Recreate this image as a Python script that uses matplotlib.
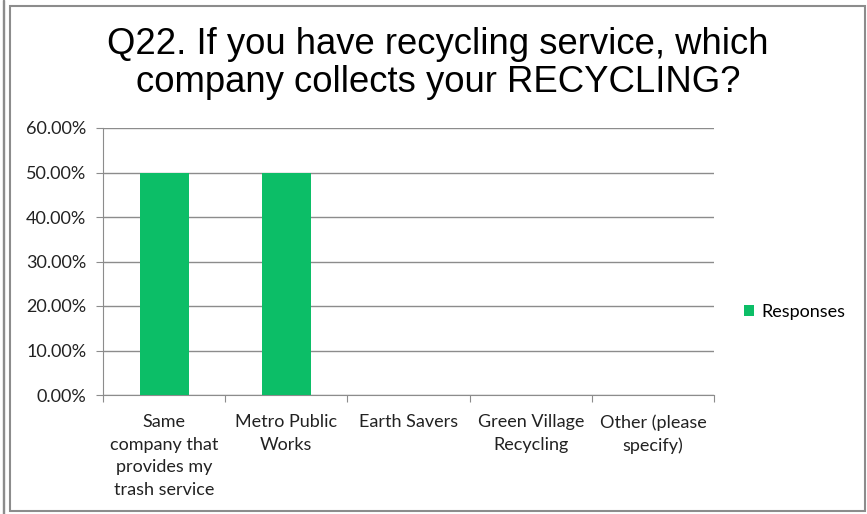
import numpy as np
import matplotlib.pyplot as plt
from matplotlib.patches import Rectangle
from matplotlib.ticker import FuncFormatter

categories = ["Same\ncompany that\nprovides my\ntrash service", "Metro Public\nWorks",
              "Earth Savers", "Green Village\nRecycling", "Other (please\nspecify)"]
responses = [0.50, 0.50, 0.0, 0.0, 0.0]
yticks = [0.0, 0.1, 0.2, 0.3, 0.4, 0.5, 0.6]

green = "#0CBE67"
label_font = "Lato"

fig = plt.figure(figsize=(8.67, 5.14), dpi=100)
ax = fig.add_axes([103/867, 1-395/514, (714-103)/867, (395-128)/514])

x = np.arange(len(categories))
ax.bar(x, responses, width=0.4, color=green, label="Responses", zorder=3)

ax.set_xlim(-0.5, len(categories)-0.5)
ax.set_ylim(0, 0.6)
ax.set_yticks(yticks)
ax.yaxis.set_major_formatter(FuncFormatter(lambda v, p: "%.2f%%" % (v*100)))
ax.grid(axis="y", color="#8c8c8c", linewidth=1, zorder=0)

ax.set_xticks(np.arange(len(categories)+1) - 0.5, minor=False)
ax.set_xticklabels([])
ax.set_xticks(x, minor=True)
ax.set_xticklabels(categories, minor=True, fontsize=13, fontfamily=label_font,
                   color="#222222", linespacing=1.5)
ax.tick_params(axis="x", which="minor", length=0, pad=14)
ax.tick_params(axis="x", which="major", length=5, color="#8c8c8c")
ax.tick_params(axis="y", length=5, color="#8c8c8c", labelsize=13, labelcolor="#222222", pad=7)
for t in ax.get_yticklabels():
    t.set_fontfamily(label_font)

for s in ["top", "right"]:
    ax.spines[s].set_visible(False)
ax.spines["left"].set_color("#8c8c8c")
ax.spines["bottom"].set_color("#8c8c8c")

fig.text(0.505, 0.877, "Q22. If you have recycling service, which\ncompany collects your RECYCLING?",
         ha="center", va="center", fontsize=26.3, fontfamily="Liberation Sans",
         linespacing=1.1)

leg = fig.legend(loc="center left", bbox_to_anchor=(728/867, 1-312/514), frameon=False,
                 prop={"family": label_font, "size": 13}, handlelength=0.55, handleheight=0.55,
                 handletextpad=0.4)

fig.patches.append(Rectangle((10/867, 3/514), 855/867, 505/514, transform=fig.transFigure,
                             fill=False, edgecolor="#8c8c8c", linewidth=1.5))
fig.patches.append(Rectangle((3/867, 0), 1/867, 1, transform=fig.transFigure,
                             color="#8c8c8c"))

plt.savefig("out.png", dpi=100)
